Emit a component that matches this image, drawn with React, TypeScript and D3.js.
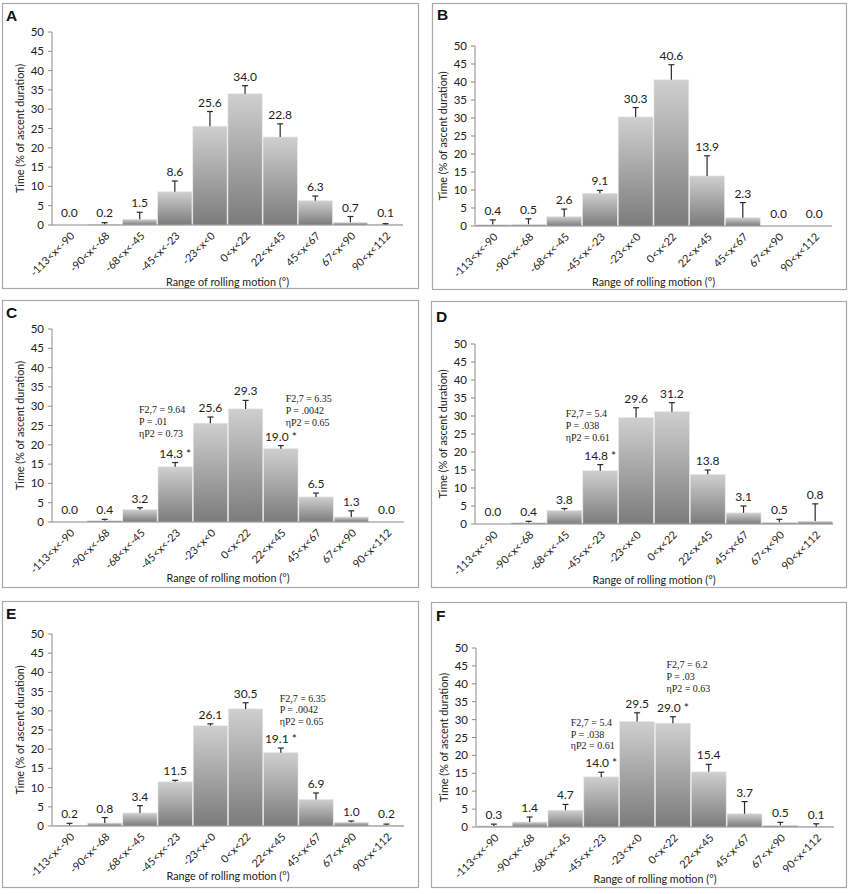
import React from "react";
import * as d3 from "d3";

// ---------- DATA ----------
const categories = [
  "-113<x<-90", "-90<x<-68", "-68<x<-45", "-45<x<-23", "-23<x<0",
  "0<x<22", "22<x<45", "45<x<67", "67<x<90", "90<x<112",
];
const yTicks = [0, 5, 10, 15, 20, 25, 30, 35, 40, 45, 50];

const valuesA = [0.0, 0.2, 1.5, 8.6, 25.6, 34.0, 22.8, 6.3, 0.7, 0.1];
const errorsA = [0, 0.4, 1.8, 2.8, 3.8, 2.1, 3.4, 1.2, 1.5, 0.25];
const starredA: number[] = [];

const valuesB = [0.4, 0.5, 2.6, 9.1, 30.3, 40.6, 13.9, 2.3, 0.0, 0.0];
const errorsB = [1.3, 1.5, 2.1, 0.8, 2.6, 4.2, 5.6, 4.2, 0, 0];
const starredB: number[] = [];

const valuesC = [0.0, 0.4, 3.2, 14.3, 25.6, 29.3, 19.0, 6.5, 1.3, 0.0];
const errorsC = [0, 0.3, 0.5, 1.1, 1.6, 2.2, 0.8, 1.0, 1.6, 0];
const starredC = [3, 6];

const valuesD = [0.0, 0.4, 3.8, 14.8, 29.6, 31.2, 13.8, 3.1, 0.5, 0.8];
const errorsD = [0, 0.35, 0.5, 1.7, 2.7, 2.5, 1.2, 1.9, 0.8, 4.8];
const starredD = [3];

const valuesE = [0.2, 0.8, 3.4, 11.5, 26.1, 30.5, 19.1, 6.9, 1.0, 0.2];
const errorsE = [0.5, 1.4, 1.9, 0.4, 0.5, 1.6, 1.2, 1.7, 0.3, 0.3];
const starredE = [6];

const valuesF = [0.3, 1.4, 4.7, 14.0, 29.5, 29.0, 15.4, 3.7, 0.5, 0.1];
const errorsF = [0.5, 1.4, 1.6, 1.3, 2.4, 1.8, 2.1, 3.4, 0.8, 0.8];
const starredF = [3, 5];

const statsC = [
  { bar: 3, lines: ["F2,7 = 9.64", "P = .01", "ηP2 = 0.73"] },
  { bar: 6, lines: ["F2,7 = 6.35", "P = .0042", "ηP2 = 0.65"] },
];
const statsD = [{ bar: 3, lines: ["F2,7 = 5.4", "P = .038", "ηP2 = 0.61"] }];
const statsE = [{ bar: 6, lines: ["F2,7 = 6.35", "P = .0042", "ηP2 = 0.65"] }];
const statsF = [
  { bar: 3, lines: ["F2,7 = 5.4", "P = .038", "ηP2 = 0.61"] },
  { bar: 5, lines: ["F2,7 = 6.2", "P = .03", "ηP2 = 0.63"] },
];

const yTitle = "Time (% of ascent duration)";
const xTitle = "Range of rolling motion (°)";

// ---------- LAYOUT ----------
type Stat = { bar: number; lines: string[] };
const panels = [
  { id: "A", values: valuesA, errors: errorsA, starred: starredA, stats: [] as Stat[],
    box: [2, 3, 416, 285], plot: [52, 403, 32, 225], title: [6, 21], xt: 61, offs: [] as number[][] },
  { id: "B", values: valuesB, errors: errorsB, starred: starredB, stats: [] as Stat[],
    box: [432, 3, 414, 286], plot: [475, 832, 46, 226], title: [437, 20], xt: 60, offs: [] },
  { id: "C", values: valuesC, errors: errorsC, starred: starredC, stats: statsC,
    box: [2, 300, 416, 287], plot: [52, 404, 329, 522], title: [6, 318], xt: 60, offs: [[-19, -21], [22, -15]] },
  { id: "D", values: valuesD, errors: errorsD, starred: starredD, stats: statsD,
    box: [431, 301, 415, 286], plot: [475, 833, 344, 524], title: [436, 322], xt: 60, offs: [[-17, -19]] },
  { id: "E", values: valuesE, errors: errorsE, starred: starredE, stats: statsE,
    box: [2, 601, 416, 286], plot: [52, 404, 634, 826], title: [6, 619], xt: 54, offs: [[16, -18]] },
  { id: "F", values: valuesF, errors: errorsF, starred: starredF, stats: statsF,
    box: [431, 602, 415, 285], plot: [476, 834, 648, 827], title: [436, 621], xt: 56, offs: [[-13, -18], [11, -20]] },
];

const SANS = "Lato, 'Open Sans', sans-serif";
const SERIF = "'Liberation Serif', 'DejaVu Serif', serif";

function Panel({ p }: { p: (typeof panels)[number] }) {
  const [left, right, top, bottom] = p.plot;
  const x = d3.scaleBand<string>().domain(categories).range([left, right]).paddingInner(0.025).paddingOuter(0.01);
  const y = d3.scaleLinear().domain([0, 50]).range([bottom, top]);
  const labelY = (i: number) => Math.min(y(p.values[i] + p.errors[i]) - 5, bottom - 8);
  return (
    <g>
      <rect x={p.box[0] + 0.5} y={p.box[1] + 0.5} width={p.box[2]} height={p.box[3]} fill="#fff" stroke="#a8a8a8" strokeWidth={1.2} />
      <text x={p.title[0]} y={p.title[1]} fontFamily="'Liberation Sans', Arial, sans-serif" fontWeight="bold" fontSize={15.5} fill="#111">{p.id}</text>
      {/* y axis */}
      <line x1={left} x2={left} y1={y(50)} y2={bottom} stroke="#8a8a8a" />
      {yTicks.map((t) => (
        <g key={t}>
          <line x1={left - 4} x2={left} y1={y(t)} y2={y(t)} stroke="#8a8a8a" />
          <text x={left - 8} y={y(t)} dy="0.35em" textAnchor="end" fontFamily={SANS} fontSize={11.5} fill="#222">{t}</text>
        </g>
      ))}
      {/* bars */}
      {categories.map((c, i) => (
        <rect key={c} x={x(c)!} width={x.bandwidth()} y={y(p.values[i])} height={bottom - y(p.values[i])}
          fill="url(#barGrad)" stroke="#e6e6e6" strokeWidth={0.6} />
      ))}
      <line x1={left} x2={right} y1={bottom} y2={bottom} stroke="#8a8a8a" />
      {/* error bars */}
      {categories.map((c, i) => {
        const cx = x(c)! + x.bandwidth() / 2;
        const y1 = y(p.values[i]);
        const y2 = y(p.values[i] + p.errors[i]);
        if (p.errors[i] <= 0) return null;
        return (
          <g key={c} stroke="#2a2a2a" strokeWidth={1.2}>
            <line x1={cx} x2={cx} y1={y1} y2={y2} />
            <line x1={cx - 3} x2={cx + 3} y1={y2} y2={y2} />
          </g>
        );
      })}
      {/* value labels */}
      {categories.map((c, i) => (
        <text key={c} x={x(c)! + x.bandwidth() / 2} y={labelY(i)} textAnchor="middle" fontFamily={SANS} fontSize={12} fill="#222">
          {p.values[i].toFixed(1) + (p.starred.includes(i) ? " *" : "")}
        </text>
      ))}
      {/* stats annotations */}
      {p.stats.map((s, k) => {
        const [dx, dy] = p.offs[k];
        const bx = x(categories[s.bar])! + dx;
        const lastY = labelY(s.bar) + dy;
        return (
          <g key={k}>
            {s.lines.map((ln, j) => (
              <text key={j} x={bx} y={lastY - (s.lines.length - 1 - j) * 11.7} fontFamily={SERIF} fontSize={10} fill="#222">{ln}</text>
            ))}
          </g>
        );
      })}
      {/* x tick labels */}
      {categories.map((c) => {
        const cx = x(c)! + x.bandwidth() / 2;
        return (
          <text key={c} transform={`translate(${cx + 3},${bottom + 9}) rotate(-45)`} textAnchor="end" dy="0.35em"
            fontFamily={SANS} fontSize={10.8} fill="#222">{c}</text>
        );
      })}
      {/* axis titles */}
      <text x={(left + right) / 2} y={bottom + p.xt} textAnchor="middle" fontFamily={SANS} fontSize={10.8} fill="#222">{xTitle}</text>
      <text transform={`translate(${left - 28},${(top + bottom) / 2}) rotate(-90)`} textAnchor="middle" fontFamily={SANS} fontSize={10.8} fill="#222">{yTitle}</text>
    </g>
  );
}

export default function App() {
  return (
    <svg width={851} height={894} style={{ position: "absolute", left: 0, top: 0, background: "#fff" }}>
      <defs>
        <linearGradient id="barGrad" x1="0" y1="0" x2="0" y2="1">
          <stop offset="0%" stopColor="#cfcfcf" />
          <stop offset="100%" stopColor="#7b7b7b" />
        </linearGradient>
      </defs>
      <rect width={851} height={894} fill="#fff" />
      {panels.map((p) => (
        <Panel key={p.id} p={p} />
      ))}
    </svg>
  );
}
